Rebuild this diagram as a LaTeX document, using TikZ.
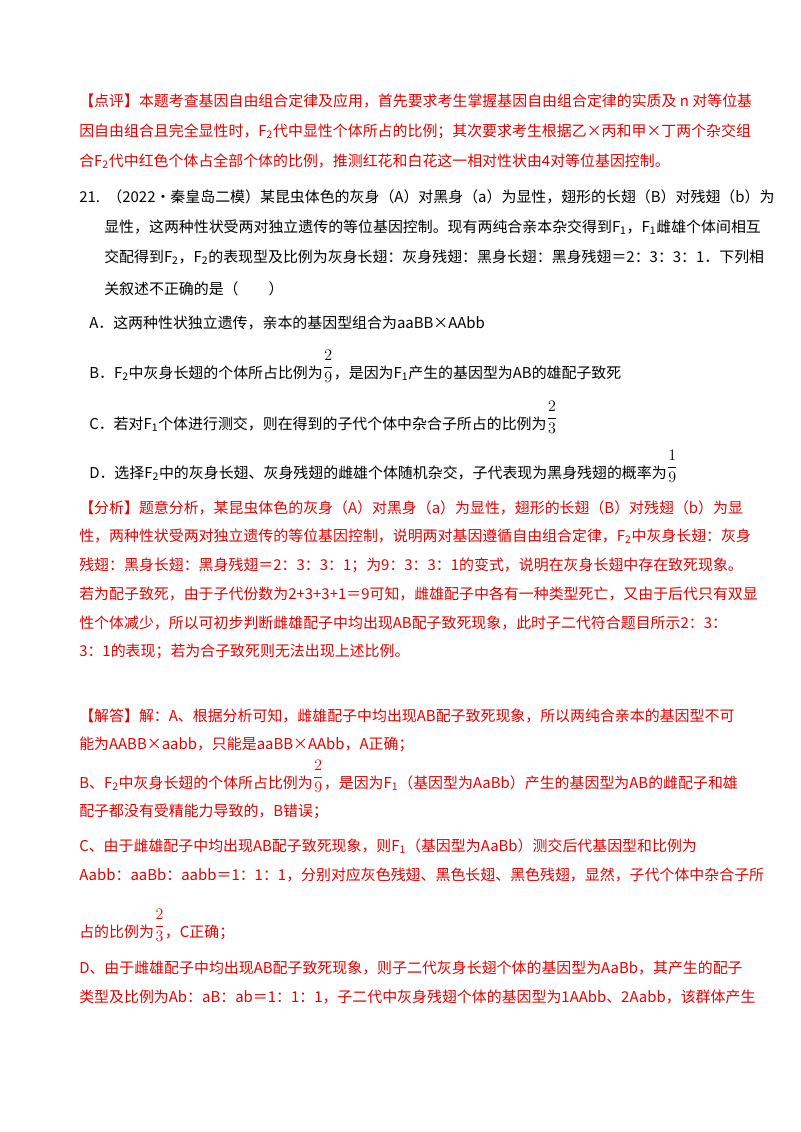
\documentclass[tikz,border=0pt]{standalone}
\usepackage{fontspec}
\newfontfamily\cjk{Noto Sans CJK SC}
\definecolor{redtxt}{RGB}{230,0,0}
\tikzset{
  ln/.style={anchor=base west,inner sep=0pt,font=\cjk\fontsize{11.2}{13}\selectfont},
  rln/.style={ln,text=redtxt},
}
\newcommand{\fr}[2]{\raisebox{5pt}{\fontsize{13}{15}\selectfont$\displaystyle\frac{#1}{#2}$}}
\begin{document}
\begin{tikzpicture}[x=0.75pt,y=-0.75pt]
    \useasboundingbox (0,0) rectangle (800,1132);
    % comment
    \node[rln] (c1) at (79,106) {【点评】本题考查基因自由组合定律及应用，首先要求考生掌握基因自由组合定律的实质及 n 对等位基};
    \node[rln] (c2) at (79,136) {因自由组合且完全显性时，F\textsubscript{2}代中显性个体所占的比例；其次要求考生根据乙×丙和甲×丁两个杂交组};
    \node[rln] (c3) at (79,166) {合F\textsubscript{2}代中红色个体占全部个体的比例，推测红花和白花这一相对性状由4对等位基因控制。};
    % question
    \node[ln] (q1) at (79,202) {21.\enspace（2022•秦皇岛二模）某昆虫体色的灰身（A）对黑身（a）为显性，翅形的长翅（B）对残翅（b）为};
    \node[ln] (q2) at (104,232) {显性，这两种性状受两对独立遗传的等位基因控制。现有两纯合亲本杂交得到F\textsubscript{1}，F\textsubscript{1}雌雄个体间相互};
    \node[ln] (q3) at (104,262) {交配得到F\textsubscript{2}，F\textsubscript{2}的表现型及比例为灰身长翅：灰身残翅：黑身长翅：黑身残翅＝2：3：3：1．下列相};
    \node[ln] (q4) at (104,294) {关叙述不正确的是（\qquad）};
    \node[ln] (oa) at (89,328) {A．这两种性状独立遗传，亲本的基因型组合为aaBB×AAbb};
    \node[ln] (ob) at (89,378) {B．F\textsubscript{2}中灰身长翅的个体所占比例为\fr{2}{9}，是因为F\textsubscript{1}产生的基因型为AB的雄配子致死};
    \node[ln] (oc) at (89,429) {C．若对F\textsubscript{1}个体进行测交，则在得到的子代个体中杂合子所占的比例为\fr{2}{3}};
    \node[ln] (od) at (89,478) {D．选择F\textsubscript{2}中的灰身长翅、灰身残翅的雌雄个体随机杂交，子代表现为黑身残翅的概率为\fr{1}{9}};
    % analysis
    \node[rln] (a1) at (79,513) {【分析】题意分析，某昆虫体色的灰身（A）对黑身（a）为显性，翅形的长翅（B）对残翅（b）为显};
    \node[rln] (a2) at (79,541) {性，两种性状受两对独立遗传的等位基因控制，说明两对基因遵循自由组合定律，F\textsubscript{2}中灰身长翅：灰身};
    \node[rln] (a3) at (79,570) {残翅：黑身长翅：黑身残翅＝2：3：3：1；为9：3：3：1的变式，说明在灰身长翅中存在致死现象。};
    \node[rln] (a4) at (79,599) {若为配子致死，由于子代份数为2+3+3+1＝9可知，雌雄配子中各有一种类型死亡，又由于后代只有双显};
    \node[rln] (a5) at (79,628) {性个体减少，所以可初步判断雌雄配子中均出现AB配子致死现象，此时子二代符合题目所示2：3：};
    \node[rln] (a6) at (79,656) {3：1的表现；若为合子致死则无法出现上述比例。};
    % answer
    \node[rln] (s1) at (79,721) {【解答】解：A、根据分析可知，雌雄配子中均出现AB配子致死现象，所以两纯合亲本的基因型不可};
    \node[rln] (s2) at (79,749) {能为AABB×aabb，只能是aaBB×AAbb，A正确；};
    \node[rln] (s3) at (79,788) {B、F\textsubscript{2}中灰身长翅的个体所占比例为\fr{2}{9}，是因为F\textsubscript{1}（基因型为AaBb）产生的基因型为AB的雌配子和雄};
    \node[rln] (s4) at (79,816) {配子都没有受精能力导致的，B错误；};
    \node[rln] (s5) at (79,851) {C、由于雌雄配子中均出现AB配子致死现象，则F\textsubscript{1}（基因型为AaBb）测交后代基因型和比例为};
    \node[rln] (s6) at (79,880) {Aabb：aaBb：aabb＝1：1：1，分别对应灰色残翅、黑色长翅、黑色残翅，显然，子代个体中杂合子所};
    \node[rln] (s7) at (79,937) {占的比例为\fr{2}{3}，C正确；};
    \node[rln] (s8) at (79,973) {D、由于雌雄配子中均出现AB配子致死现象，则子二代灰身长翅个体的基因型为AaBb，其产生的配子};
    \node[rln] (s9) at (79,1002) {类型及比例为Ab：aB：ab＝1：1：1，子二代中灰身残翅个体的基因型为1AAbb、2Aabb，该群体产生};
\end{tikzpicture}
\end{document}
